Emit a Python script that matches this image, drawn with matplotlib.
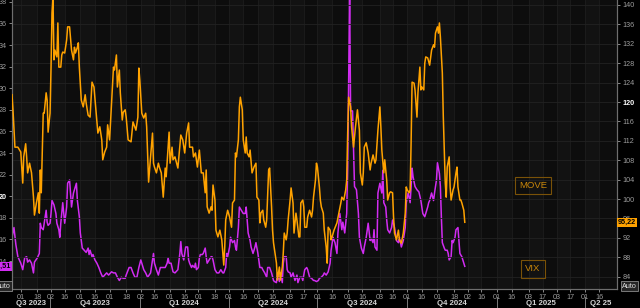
import numpy as np
import matplotlib
matplotlib.use("Agg")
import matplotlib.pyplot as plt
import matplotlib.dates as mdates
import matplotlib.transforms as mtransforms

plt.rcParams['font.family'] = ['Liberation Sans', 'DejaVu Sans']

# day offsets are counted from 2023-09-01
start = np.datetime64("2023-09-01")

move_days = [-9, -8, -6, -3, 0, 2, 3, 5, 6, 7,
             9, 11, 13, 14, 16, 18, 19, 20, 21, 23,
             24, 26, 27, 28, 30, 31, 32, 33, 34, 35,
             37, 38, 39, 41, 42, 43, 45, 47, 48, 50,
             52, 54, 55, 56, 58, 59, 60, 62, 64, 66,
             67, 69, 71, 73, 75, 77, 79, 81, 83, 84,
             86, 88, 89, 91, 93, 95, 96, 98, 99, 101,
             102, 104, 105, 107, 108, 110, 113, 115, 118, 120,
             121, 122, 124, 126, 128, 129, 130, 131, 133, 135,
             136, 137, 139, 141, 142, 144, 146, 148, 149, 152,
             153, 155, 156, 158, 161, 162, 164, 166, 168, 170,
             172, 173, 176, 177, 179, 181, 183, 185, 187, 189,
             190, 191, 193, 195, 196, 197, 199, 200, 202, 204,
             206, 207, 208, 209, 210, 212, 214, 216, 217, 219,
             220, 221, 223, 224, 225, 227, 228, 230, 231, 232,
             234, 235, 237, 239, 241, 242, 244, 245, 246, 248,
             249, 251, 252, 254, 255, 257, 258, 259, 261, 262,
             263, 265, 266, 268, 269, 270, 272, 273, 274, 276,
             277, 279, 280, 282, 283, 285, 286, 287, 289, 290,
             291, 293, 294, 296, 298, 299, 300, 302, 303, 304,
             306, 307, 308, 310, 311, 313, 314, 315, 317, 318,
             319, 321, 324, 326, 328, 329, 331, 333, 334, 335,
             336, 338, 339, 341, 343, 345, 347, 348, 350, 351,
             352, 354, 356, 358, 359, 361, 363, 364, 366, 368,
             369, 370, 372, 373, 375, 376, 378, 379, 381, 382,
             383, 385, 387, 388, 390, 392, 394, 395, 396, 398,
             399, 400, 401, 403, 404, 406, 407, 409, 410, 411,
             413, 414, 415, 417, 419, 421, 423, 424, 425, 427,
             428, 429, 430, 432, 433, 435, 436, 437, 439, 440,
             441, 443, 444, 446, 447, 448, 450, 451, 452, 454,
             455]
move_vals = [121.5, 118.4, 110.7, 110.7, 109.7, 103.3, 108.7, 111.4, 108.7, 105.4,
             107.4, 105.4, 100.4, 96.7, 99.2, 101.3, 97.1, 106.0, 101.3, 117.7,
             117.7, 121.9, 120.4, 113.8, 117.7, 127.2, 138.4, 141.5, 128.7, 130.7,
             129.3, 136.3, 127.2, 127.2, 129.7, 130.3, 130.1, 132.8, 135.5, 135.5,
             130.7, 128.7, 131.3, 130.1, 131.3, 132.2, 127.2, 120.4, 119.0, 121.5,
             119.8, 117.3, 116.9, 124.1, 123.1, 118.4, 113.6, 114.9, 112.2, 108.1,
             109.7, 110.7, 115.3, 112.2, 119.8, 127.2, 126.6, 129.7, 123.1, 126.6,
             121.9, 116.3, 117.9, 118.4, 116.9, 112.2, 111.8, 115.9, 114.2, 116.9,
             127.0, 124.5, 117.7, 116.7, 117.7, 114.9, 109.5, 103.5, 108.7, 113.6,
             107.4, 106.6, 105.4, 107.4, 106.6, 105.4, 100.4, 106.4, 104.6, 113.8,
             107.4, 110.7, 108.1, 108.7, 106.4, 108.7, 113.2, 112.2, 109.5, 113.6,
             115.7, 110.7, 110.7, 108.7, 109.5, 106.6, 110.1, 105.4, 105.4, 101.3,
             106.0, 98.4, 97.1, 98.4, 97.7, 102.9, 99.8, 93.6, 92.2, 93.6,
             91.6, 88.9, 86.4, 90.1, 95.7, 97.7, 96.3, 94.2, 99.2, 99.8,
             109.5, 108.7, 112.2, 119.0, 121.0, 118.4, 112.2, 109.5, 112.8, 109.5,
             108.7, 110.1, 105.4, 106.6, 107.4, 100.4, 99.8, 95.1, 97.1, 97.7,
             95.7, 94.2, 95.7, 106.0, 106.4, 98.4, 93.6, 91.0, 88.1, 86.8,
             83.3, 86.0, 83.3, 86.0, 88.9, 93.0, 91.6, 93.0, 95.7, 99.8,
             102.3, 99.2, 93.0, 97.1, 95.7, 92.2, 92.2, 99.2, 99.8, 98.4,
             94.2, 94.2, 96.3, 97.7, 96.3, 97.7, 100.4, 103.9, 107.4, 106.6,
             102.5, 99.8, 98.4, 97.1, 93.6, 90.1, 86.8, 94.2, 93.6, 91.6,
             92.2, 93.6, 95.1, 97.1, 99.2, 100.4, 99.8, 101.9, 103.9, 113.6,
             121.0, 119.0, 114.9, 110.7, 114.9, 118.4, 114.2, 105.4, 102.9, 105.4,
             110.7, 111.6, 109.5, 106.0, 107.4, 109.1, 107.4, 108.1, 114.2, 119.0,
             114.9, 110.1, 105.4, 108.1, 103.9, 99.8, 101.3, 101.5, 101.3, 96.3,
             93.0, 91.6, 93.6, 91.6, 90.9, 93.0, 97.1, 102.5, 101.9, 101.3,
             101.9, 111.6, 124.1, 123.9, 122.5, 116.9, 121.9, 127.2, 122.5, 123.1,
             122.5, 128.0, 129.3, 129.1, 127.6, 130.7, 131.8, 131.3, 134.2, 135.5,
             134.2, 136.3, 133.4, 126.0, 116.9, 103.3, 100.4, 106.6, 108.7, 102.5,
             99.8, 101.9, 102.5, 105.4, 106.6, 102.5, 99.8, 99.8, 99.2, 97.7,
             95.22]

vix_days = [-9, -7, -5, -3, 0, 2, 4, 6, 7, 9,
            11, 13, 14, 17, 19, 20, 21, 23, 25, 26,
            27, 28, 30, 31, 32, 34, 36, 37, 39, 40,
            41, 43, 44, 45, 47, 48, 50, 51, 52, 54,
            56, 57, 58, 60, 61, 63, 65, 67, 69, 70,
            71, 73, 74, 76, 78, 80, 82, 84, 86, 88,
            90, 93, 95, 97, 99, 101, 103, 105, 107, 108,
            111, 113, 115, 117, 119, 121, 123, 124, 126, 128,
            130, 133, 135, 136, 137, 139, 141, 143, 146, 148,
            150, 151, 152, 154, 156, 158, 161, 163, 164, 165,
            167, 168, 169, 171, 172, 173, 175, 176, 178, 179,
            180, 182, 183, 184, 186, 187, 189, 190, 191, 193,
            195, 196, 197, 199, 201, 203, 205, 207, 208, 210,
            211, 212, 214, 215, 217, 219, 220, 221, 223, 224,
            226, 228, 230, 231, 233, 235, 236, 238, 240, 241,
            243, 245, 247, 248, 250, 252, 253, 255, 257, 259,
            260, 262, 263, 265, 266, 268, 269, 270, 272, 273,
            274, 276, 277, 279, 281, 283, 284, 286, 288, 289,
            291, 293, 294, 296, 298, 300, 301, 303, 305, 306,
            308, 310, 311, 313, 315, 317, 318, 320, 322, 324,
            325, 327, 329, 330, 332, 334, 335, 337, 338, 340,
            341, 342, 344, 346, 347, 349, 351, 352, 354, 356,
            358, 359, 361, 362, 363, 365, 366, 368, 370, 371,
            372, 374, 375, 376, 378, 380, 381, 383, 385, 387,
            388, 390, 392, 394, 395, 397, 399, 400, 401, 402,
            404, 406, 408, 410, 412, 414, 415, 417, 418, 419,
            421, 423, 424, 426, 427, 429, 430, 431, 432, 434,
            435, 437, 438, 439, 441, 442, 443, 445, 446, 448,
            449, 450, 452, 453, 455]
vix_vals = [16.2, 17.1, 15.5, 14.4, 13.8, 13.2, 14.3, 14.4, 13.9, 14.1,
            13.8, 12.9, 13.9, 14.3, 14.7, 17.5, 17.1, 16.9, 18.1, 18.7,
            17.6, 17.3, 17.5, 18.4, 19.6, 19.2, 18.4, 17.5, 16.9, 16.2,
            17.5, 19.4, 18.4, 17.5, 19.0, 21.2, 21.5, 20.3, 19.0, 20.3,
            20.9, 21.2, 19.6, 18.1, 16.6, 15.2, 15.0, 14.8, 15.2, 14.6,
            15.0, 14.4, 14.6, 14.1, 13.8, 13.4, 12.9, 12.5, 12.7, 12.9,
            12.7, 13.0, 12.9, 12.9, 12.5, 12.2, 12.5, 12.4, 12.4, 12.7,
            13.4, 13.4, 12.9, 12.5, 12.5, 13.4, 14.1, 13.8, 13.2, 12.9,
            12.5, 12.9, 14.1, 14.7, 13.8, 13.2, 12.7, 13.4, 13.4, 13.4,
            13.8, 14.3, 13.8, 13.8, 13.0, 12.9, 13.2, 14.7, 15.8, 14.7,
            14.1, 14.7, 15.3, 15.3, 14.1, 13.8, 13.4, 13.6, 13.4, 13.8,
            13.2, 13.4, 14.3, 14.6, 14.6, 14.7, 15.2, 14.4, 13.8, 14.1,
            14.4, 14.4, 14.1, 13.2, 12.9, 12.9, 13.2, 12.9, 12.9, 13.4,
            14.7, 14.4, 15.3, 16.2, 15.7, 15.9, 15.3, 15.0, 17.1, 19.0,
            18.7, 18.4, 18.4, 19.0, 16.6, 15.9, 15.3, 14.7, 15.3, 15.7,
            14.7, 13.4, 13.4, 13.2, 12.9, 12.5, 13.4, 13.4, 12.9, 12.2,
            12.1, 12.0, 12.9, 12.1, 12.9, 12.0, 13.8, 14.4, 14.4, 13.2,
            13.0, 12.9, 12.5, 12.9, 12.2, 12.7, 12.0, 12.5, 12.5, 12.2,
            13.2, 13.4, 13.2, 12.5, 12.4, 12.2, 12.2, 12.1, 12.2, 12.4,
            12.5, 12.7, 12.9, 12.7, 13.0, 13.8, 15.0, 16.2, 15.7, 14.7,
            16.6, 18.4, 16.9, 17.6, 16.6, 18.4, 22.7, 38.6, 27.9, 27.9,
            24.4, 20.9, 20.6, 18.4, 16.2, 15.2, 14.7, 15.3, 16.2, 17.5,
            15.9, 16.1, 15.7, 16.9, 15.3, 15.0, 20.3, 21.2, 20.3, 22.4,
            19.4, 19.0, 17.8, 16.9, 16.6, 17.1, 17.8, 17.1, 15.9, 15.7,
            16.2, 15.3, 15.9, 17.1, 19.4, 20.3, 19.4, 20.9, 22.6, 21.8,
            20.9, 20.6, 20.4, 19.6, 18.4, 18.1, 18.4, 19.0, 19.4, 19.6,
            20.3, 19.6, 20.3, 21.5, 23.1, 22.1, 20.9, 18.1, 15.7, 15.2,
            15.0, 15.0, 14.7, 14.1, 14.4, 15.9, 15.7, 16.2, 16.9, 17.1,
            15.9, 14.7, 14.4, 14.1, 13.51]

tick_dates = ["2023-09-01", "2023-09-18", "2023-10-02", "2023-10-16", "2023-11-01",
              "2023-11-16", "2023-12-01", "2023-12-18", "2024-01-02", "2024-01-16",
              "2024-02-01", "2024-02-16", "2024-03-01", "2024-03-18", "2024-04-01",
              "2024-04-16", "2024-05-01", "2024-05-16", "2024-06-03", "2024-06-17",
              "2024-07-01", "2024-07-16", "2024-08-01", "2024-08-16", "2024-09-03",
              "2024-09-16", "2024-10-01", "2024-10-16", "2024-11-01", "2024-11-18",
              "2024-12-02", "2024-12-16", "2025-01-01", "2025-01-16", "2025-02-03",
              "2025-02-17", "2025-03-03", "2025-03-17", "2025-04-01", "2025-04-16"]
quarter_names = ["Q3 2023", "Q4 2023", "Q1 2024", "Q2 2024", "Q3 2024", "Q4 2024", "Q1 2025", "Q2 25"]
quarter_starts = ["2023-07-01", "2023-10-01", "2024-01-01", "2024-04-01", "2024-07-01",
                  "2024-10-01", "2025-01-01", "2025-04-01", "2025-07-01"]
vix_ticks = list(range(14, 39, 2))
move_ticks = list(range(84, 141, 4))

move_dates = start + np.array(move_days)
vix_dates = start + np.array(vix_days)
ticks = np.array(tick_dates, dtype="datetime64[D]")
qstarts = np.array(quarter_starts, dtype="datetime64[D]")
x0 = start - 9
x1 = start + 611

fig = plt.figure(figsize=(6.4, 3.08), dpi=100, facecolor="black")
ax = fig.add_axes([12 / 640, 19 / 308, 605 / 640, 289 / 308])
ax.set_facecolor("#0d0d0d")
ax2 = ax.twinx()

for i in range(len(ticks) - 1):
    if i % 2 == 0:
        ax.axvspan(ticks[i], ticks[i + 1], color="#121212", lw=0, zorder=0)
ax.axvspan(x0, ticks[0], color="#121212", lw=0, zorder=0)
for t in ticks:
    ax.axvline(t, color="#1d1d1d", lw=0.6, zorder=0.5)

ax.plot(vix_dates, vix_vals, color="#d22cf2", lw=1.1, zorder=3)
ax2.plot(move_dates, move_vals, color="#ffa200", lw=1.1, zorder=3)

ax.set_xlim(x0, x1)
ax.set_ylim(11.41, 38.17)
ax2.set_ylim(81.47, 141.03)
ax2.grid(axis="y", color="#222222", lw=0.6)
ax2.set_axisbelow(True)

ax.set_xticks(ticks)
ax.xaxis.set_major_formatter(mdates.DateFormatter("%d"))
ax.set_yticks(vix_ticks)
ax2.set_yticks(move_ticks)

for a in (ax, ax2):
    for s in a.spines.values():
        s.set_color("#6e6e6e")
        s.set_linewidth(0.8)
    a.spines["top"].set_visible(False)
    a.tick_params(colors="#9c9c9c", labelsize=5.2, length=2.5, width=0.6, pad=1.2)

for lab in ax.get_yticklabels():
    if lab.get_text() == "20":
        lab.set_color("white")
        lab.set_fontweight("bold")
for lab in ax2.get_yticklabels():
    if lab.get_text() == "120":
        lab.set_color("white")
        lab.set_fontweight("bold")

# quarter row under the day labels
trans = mtransforms.blended_transform_factory(ax.transData, ax.transAxes)
for i, name in enumerate(quarter_names):
    left = max(qstarts[i], x0)
    right = min(qstarts[i + 1], x1)
    mid = left + (right - left) / 2
    ax.text(mid, -0.05, name, transform=trans, ha="center", va="center",
            fontsize=5.6, fontweight="bold", color="#d6d6d6")
    if qstarts[i] > x0:
        ax.plot([qstarts[i], qstarts[i]], [-0.026, -0.075], transform=trans,
                color="#7a7a7a", lw=0.7, clip_on=False)

# last value tags
ytrans2 = mtransforms.blended_transform_factory(ax2.transAxes, ax2.transData)
ax2.text(1.002, move_vals[-1], "95,22", transform=ytrans2, ha="left", va="center",
         fontsize=5.2, fontweight="bold", color="black",
         bbox=dict(boxstyle="square,pad=0.15", fc="#ffa200", ec="none"))
ytrans = mtransforms.blended_transform_factory(ax.transAxes, ax.transData)
ax.text(-0.002, vix_vals[-1], "13,51", transform=ytrans, ha="right", va="center",
        fontsize=5.2, fontweight="bold", color="black", zorder=5,
        bbox=dict(boxstyle="square,pad=0.15", fc="#d22cf2", ec="none"))

fig.text(637 / 640, 1 - 286 / 308, "Auto", ha="right", va="center", fontsize=5.2,
         color="#e0e0e0", bbox=dict(boxstyle="square,pad=0.2", fc="#262626", ec="#8a8a8a", lw=0.6))
fig.text(11 / 640, 1 - 286 / 308, "Auto", ha="right", va="center", fontsize=5.2,
         color="#e0e0e0", bbox=dict(boxstyle="square,pad=0.2", fc="#262626", ec="#8a8a8a", lw=0.6))

# series labels
ax2.text(start + 525, 102.8, "MOVE", ha="center", va="center", fontsize=6.8, color="#c8860a",
         bbox=dict(boxstyle="square,pad=0.45", fc="none", ec="#7a5208", lw=0.8))
ax2.text(start + 525, 85.6, "VIX", ha="center", va="center", fontsize=6.8, color="#c8860a",
         bbox=dict(boxstyle="square,pad=0.45", fc="none", ec="#7a5208", lw=0.8))

fig.savefig("out.png", dpi=100, facecolor="black")
